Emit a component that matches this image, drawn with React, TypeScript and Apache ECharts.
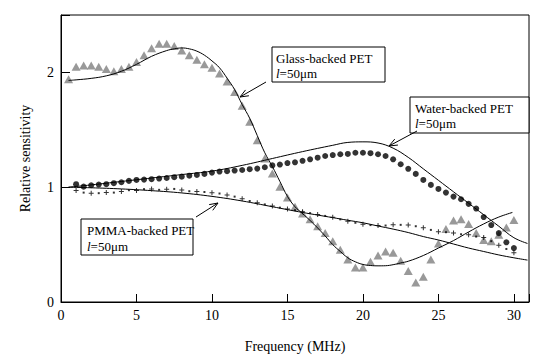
import React, { useEffect, useRef } from "react";
import * as echarts from "echarts";

// Frequency (MHz) sample points
const glassFreq = [0.5, 1, 1.5, 2, 2.5, 3, 3.5, 4, 4.5, 5, 5.5, 6, 6.5, 7, 7.5, 8, 8.5, 9, 9.5, 10, 10.5, 11, 11.5, 12, 12.5, 13, 13.5, 14, 14.5, 15, 15.5, 16, 16.5, 17, 17.5, 18, 18.5, 19, 19.5, 20, 20.5, 21, 21.5, 22, 22.5, 23, 23.5, 24, 24.5, 25, 25.5, 26, 26.5, 27, 27.5, 28, 28.5, 29, 29.5, 30];
const glassMeasured = [1.94, 2.05, 2.06, 2.06, 2.05, 2.03, 2.01, 2.03, 2.05, 2.09, 2.15, 2.21, 2.25, 2.25, 2.23, 2.19, 2.15, 2.11, 2.07, 2.04, 1.99, 1.92, 1.83, 1.71, 1.57, 1.41, 1.25, 1.12, 1.005, 0.91, 0.83, 0.77, 0.72, 0.66, 0.6, 0.53, 0.455, 0.37, 0.3, 0.3, 0.35, 0.405, 0.44, 0.43, 0.36, 0.27, 0.17, 0.22, 0.37, 0.51, 0.635, 0.71, 0.72, 0.68, 0.6, 0.54, 0.53, 0.585, 0.65, 0.715];

const measFreq = [1, 1.5, 2, 2.5, 3, 3.5, 4, 4.5, 5, 5.5, 6, 6.5, 7, 7.5, 8, 8.5, 9, 9.5, 10, 10.5, 11, 11.5, 12, 12.5, 13, 13.5, 14, 14.5, 15, 15.5, 16, 16.5, 17, 17.5, 18, 18.5, 19, 19.5, 20, 20.5, 21, 21.5, 22, 22.5, 23, 23.5, 24, 24.5, 25, 25.5, 26, 26.5, 27, 27.5, 28, 28.5, 29, 29.5, 30];
const waterMeasured = [1.026, 1.005, 1.017, 1.023, 1.026, 1.035, 1.043, 1.055, 1.063, 1.066, 1.07, 1.075, 1.08, 1.087, 1.092, 1.1, 1.107, 1.116, 1.127, 1.136, 1.14, 1.145, 1.15, 1.157, 1.162, 1.174, 1.19, 1.197, 1.21, 1.217, 1.23, 1.243, 1.257, 1.272, 1.28, 1.287, 1.29, 1.3, 1.3, 1.296, 1.287, 1.272, 1.243, 1.2, 1.16, 1.116, 1.063, 1.02, 0.985, 0.953, 0.918, 0.895, 0.855, 0.814, 0.74, 0.67, 0.6, 0.52, 0.47];
const pmmaMeasured = [0.971, 0.953, 0.948, 0.948, 0.953, 0.953, 0.962, 0.974, 0.971, 0.983, 0.985, 0.977, 0.983, 0.985, 0.975, 0.965, 0.962, 0.958, 0.952, 0.945, 0.932, 0.918, 0.9, 0.88, 0.864, 0.85, 0.837, 0.822, 0.81, 0.8, 0.786, 0.774, 0.762, 0.75, 0.738, 0.72, 0.703, 0.69, 0.678, 0.67, 0.666, 0.666, 0.672, 0.672, 0.67, 0.66, 0.647, 0.628, 0.613, 0.608, 0.6, 0.59, 0.585, 0.57, 0.562, 0.53, 0.495, 0.462, 0.43];

// Theoretical curves
const glassFitFreq = [0.5, 1, 2, 3, 4, 5, 6, 7, 7.5, 8, 8.5, 9, 9.5, 10, 10.5, 11, 11.5, 12, 12.5, 13, 13.5, 14, 14.5, 15, 15.5, 16, 16.5, 17, 17.5, 18, 18.5, 19, 19.5, 20, 20.5, 21, 21.5, 22, 22.5, 23, 24, 25, 26, 27, 28, 29, 29.9];
const glassFit = [1.93, 1.935, 1.948, 1.97, 2.01, 2.07, 2.14, 2.19, 2.205, 2.213, 2.205, 2.185, 2.15, 2.1, 2.04, 1.95, 1.85, 1.72, 1.6, 1.45, 1.3, 1.18, 1.05, 0.92, 0.83, 0.77, 0.71, 0.645, 0.575, 0.5, 0.44, 0.385, 0.35, 0.327, 0.318, 0.315, 0.316, 0.325, 0.34, 0.355, 0.405, 0.47, 0.535, 0.61, 0.68, 0.74, 0.78];
const lineFreq = [0.5, 2, 4, 6, 8, 10, 12, 14, 16, 18, 19, 20, 21, 22, 23, 24, 25, 26, 27, 28, 29, 30, 30.9];
const waterFit = [1.0, 1.02, 1.05, 1.08, 1.11, 1.14, 1.19, 1.25, 1.31, 1.365, 1.39, 1.395, 1.385, 1.34, 1.26, 1.16, 1.06, 0.96, 0.86, 0.76, 0.66, 0.56, 0.51];
const pmmaFit = [1.0, 0.995, 0.985, 0.97, 0.95, 0.92, 0.88, 0.83, 0.78, 0.735, 0.712, 0.69, 0.662, 0.635, 0.605, 0.57, 0.54, 0.505, 0.47, 0.44, 0.41, 0.385, 0.365];

const xTicks = [0, 5, 10, 15, 20, 25, 30];
const yTicks = [0, 1, 2];

const FONT = "Liberation Serif";

function pairs(xs: number[], ys: number[]) {
  return xs.map((x, i) => [x, ys[i]]);
}

function arrow(x1: number, y1: number, x2: number, y2: number) {
  const dx = x2 - x1;
  const dy = y2 - y1;
  const len = Math.sqrt(dx * dx + dy * dy);
  const ux = dx / len;
  const uy = dy / len;
  const L = 9;
  const a = (22 * Math.PI) / 180;
  const rot = (ang: number) => [
    x2 - L * (ux * Math.cos(ang) - uy * Math.sin(ang)),
    y2 - L * (ux * Math.sin(ang) + uy * Math.cos(ang)),
  ];
  const p1 = rot(a);
  const p2 = rot(-a);
  return [
    { type: "line", shape: { x1, y1, x2, y2 }, style: { stroke: "#000", lineWidth: 1 }, z: 100 },
    { type: "polyline", shape: { points: [p1, [x2, y2], p2] }, style: { stroke: "#000", lineWidth: 1, fill: null }, z: 100 },
  ];
}

function box(x: number, y: number, w: number, h: number, line1: string, y1: number, y2: number, tx: number) {
  return [
    { type: "rect", shape: { x, y, width: w, height: h }, style: { fill: "#fff", stroke: "#000", lineWidth: 1 }, z: 100 },
    {
      type: "text",
      x: tx,
      y: y1,
      style: { text: line1, fontFamily: FONT, fontSize: 13, fill: "#000", verticalAlign: "middle" },
      z: 101,
    },
    {
      type: "text",
      x: tx,
      y: y2,
      style: {
        text: "{i|l}=50\u03bcm",
        fontFamily: FONT,
        fontSize: 13,
        fill: "#000",
        verticalAlign: "middle",
        rich: { i: { fontStyle: "italic", fontFamily: FONT, fontSize: 13 } },
      },
      z: 101,
    },
  ];
}

export default function App() {
  const ref = useRef<HTMLDivElement>(null);
  useEffect(() => {
    if (!ref.current) return;
    const chart = echarts.init(ref.current, null, { renderer: "svg" });
    const crossPath = "path://M2,0H3V2H5V3H3V5H2V3H0V2H2Z";
    chart.setOption({
      animation: false,
      backgroundColor: "#fff",
      textStyle: { fontFamily: FONT },
      grid: { left: 61, top: 15, right: 11, bottom: 60, show: true, borderColor: "#000", borderWidth: 1 },
      xAxis: {
        type: "value",
        min: 0,
        max: 31,
        interval: 5,
        name: "Frequency (MHz)",
        nameLocation: "middle",
        nameGap: 37,
        nameTextStyle: { fontFamily: FONT, fontSize: 14, color: "#000" },
        axisLine: { show: true, lineStyle: { color: "#000", width: 1 } },
        axisTick: { show: true, inside: true, length: 8, lineStyle: { color: "#000" } },
        axisLabel: {
          fontFamily: FONT,
          fontSize: 14,
          color: "#000",
          margin: 6,
          formatter: (v: number) => (xTicks.includes(v) ? String(v) : ""),
        },
        splitLine: { show: false },
      },
      yAxis: {
        type: "value",
        min: 0,
        max: 2.5,
        interval: 1,
        name: "Relative sensitivity",
        nameLocation: "middle",
        nameGap: 29,
        nameTextStyle: { fontFamily: FONT, fontSize: 14, color: "#000" },
        axisLine: { show: true, lineStyle: { color: "#000", width: 1 } },
        axisTick: { show: true, inside: true, length: 9, lineStyle: { color: "#000" } },
        axisLabel: {
          fontFamily: FONT,
          fontSize: 14,
          color: "#000",
          margin: 7,
          formatter: (v: number) => (yTicks.includes(v) ? String(v) : ""),
        },
        splitLine: { show: false },
      },
      series: [
        {
          name: "Glass measured",
          type: "scatter",
          symbol: "triangle",
          symbolSize: [9, 8],
          itemStyle: { color: "#808080" },
          data: pairs(glassFreq, glassMeasured),
          z: 3,
        },
        {
          name: "Water measured",
          type: "scatter",
          symbol: "circle",
          symbolSize: 6,
          itemStyle: { color: "#000" },
          data: pairs(measFreq, waterMeasured),
          z: 3,
        },
        {
          name: "PMMA measured",
          type: "scatter",
          symbol: (_v: any, p: any) => (p.dataIndex % 2 === 0 ? crossPath : "rect"),
          symbolSize: (_v: any, p: any) => (p.dataIndex % 2 === 0 ? 5 : 2),
          itemStyle: { color: "#000" },
          data: pairs(measFreq, pmmaMeasured),
          z: 3,
        },
        {
          name: "Glass theory",
          type: "line",
          smooth: 0.4,
          showSymbol: false,
          lineStyle: { color: "#000", width: 1 },
          data: pairs(glassFitFreq, glassFit),
          z: 4,
        },
        {
          name: "Water theory",
          type: "line",
          smooth: 0.4,
          showSymbol: false,
          lineStyle: { color: "#000", width: 1 },
          data: pairs(lineFreq, waterFit),
          z: 4,
        },
        {
          name: "PMMA theory",
          type: "line",
          smooth: 0.4,
          showSymbol: false,
          lineStyle: { color: "#000", width: 1 },
          data: pairs(lineFreq, pmmaFit),
          z: 4,
        },
      ],
      graphic: [
        ...box(272, 47, 113, 35, "Glass-backed PET", 58, 73, 276),
        ...arrow(266, 82, 240, 97),
        ...box(410, 97, 119, 36, "Water-backed PET", 108, 123, 415),
        ...arrow(417, 131, 389, 146),
        ...box(81, 219, 112, 36, "PMMA-backed PET", 230, 246, 87),
        ...arrow(196, 217, 218, 203),
      ],
    });
    return () => chart.dispose();
  }, []);
  return <div ref={ref} style={{ width: 540, height: 362, position: "absolute", left: 0, top: 0 }} />;
}
